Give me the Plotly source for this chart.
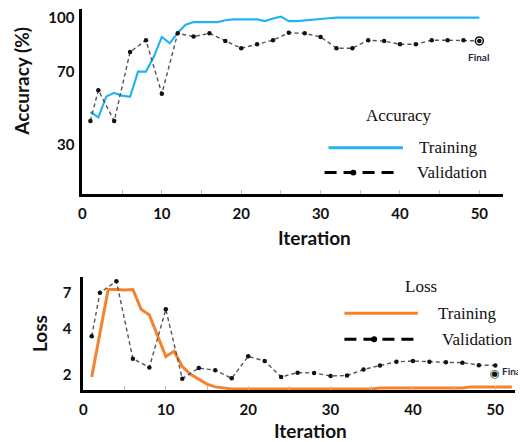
import plotly.graph_objects as go

# ---------------- data ----------------
acc_train_iter = list(range(1, 51))
acc_train = [48, 45, 56.5, 58.5, 57, 56.3, 70.2, 70.2, 78.5, 89.3,
             85.8, 91.6, 96, 97.5, 97.5, 97.5, 97.5, 98.5, 99, 99,
             99, 99, 98, 99.5, 100.5, 98, 98, 98.3, 98.7, 99.2,
             99.6, 100, 100, 100, 100, 100, 100, 100, 100, 100,
             100, 100, 100, 100, 100, 100, 100, 100, 100, 100]

val_iter = [1, 2, 4, 6, 8, 10, 12, 14, 16, 18, 20, 22, 24, 26, 28,
            30, 32, 34, 36, 38, 40, 42, 44, 46, 48, 50]
acc_val = [43, 60, 43, 81, 87.5, 58, 91.3, 89.5, 91.3, 87.1, 83.1, 85.3, 87.5,
           91.6, 91.3, 89.3, 83.1, 83.1, 87.5, 87, 85.3, 85.3, 87.5, 87.5, 87.5, 87.1]

loss_train_iter = list(range(1, 53))
loss_train = [1.92, 3.75, 7.3, 7.3, 7.25, 7.3, 5.4, 4.95, 3.55, 2.62,
              2.84, 2.25, 2.0, 1.85, 1.72, 1.65, 1.62, 1.6, 1.6, 1.6,
              1.6, 1.6, 1.6, 1.6, 1.6, 1.6, 1.6, 1.6, 1.6, 1.6,
              1.6, 1.6, 1.6, 1.6, 1.6, 1.62, 1.62, 1.62, 1.62, 1.62,
              1.62, 1.62, 1.62, 1.62, 1.62, 1.62, 1.65, 1.65, 1.65, 1.65,
              1.65, 1.65]
loss_val = [3.57, 6.95, 8.3, 2.54, 2.22, 5.4, 1.87, 2.2, 2.13, 1.88, 2.63, 2.45, 1.92,
            2.05, 2.04, 1.95, 1.96, 2.15, 2.29, 2.42, 2.45, 2.42, 2.40, 2.39, 2.3, 2.29]

x_ticks = [0, 10, 20, 30, 40, 50]
acc_ticks = [30, 70, 100]
loss_ticks = [2, 4, 7]

# ---------------- styling ----------------
# the page body has an 8px default margin; size the figure so it fills the window
OFF = 8
W, H = 526 - OFF, 442 - OFF
BLUE = "#22b4f0"
ORANGE = "#f5822d"
LBL = dict(family="Lato, 'DejaVu Sans', sans-serif", size=15, color="#111", weight="bold")
SERIF = dict(family="'Liberation Serif', 'Times New Roman', serif", size=17, color="#111")


def px(x):
    return (x - OFF) / W


def py(y):
    return 1 - (y - OFF) / H


fig = go.Figure()

fig.add_trace(go.Scatter(x=acc_train_iter, y=acc_train, mode="lines",
                         line=dict(color=BLUE, width=2.2), xaxis="x", yaxis="y",
                         showlegend=False))
fig.add_trace(go.Scatter(x=val_iter, y=acc_val, mode="lines+markers",
                         line=dict(color="#555", width=1.4, dash="4px,3px"),
                         marker=dict(color="#111", size=4.5), xaxis="x", yaxis="y",
                         showlegend=False))
fig.add_trace(go.Scatter(x=[val_iter[-1]], y=[acc_val[-1]], mode="markers",
                         marker=dict(symbol="circle-open-dot", color="#111", size=8,
                                     line=dict(width=1.5)),
                         xaxis="x", yaxis="y", showlegend=False))

fig.add_trace(go.Scatter(x=loss_train_iter, y=loss_train, mode="lines",
                         line=dict(color=ORANGE, width=3), xaxis="x2", yaxis="y2",
                         showlegend=False))
fig.add_trace(go.Scatter(x=val_iter, y=loss_val, mode="lines+markers",
                         line=dict(color="#555", width=1.4, dash="4px,3px"),
                         marker=dict(color="#111", size=4.5), xaxis="x2", yaxis="y2",
                         showlegend=False))

axis_common = dict(showline=True, linecolor="#000", linewidth=3, showgrid=False,
                   zeroline=False, tickfont=LBL, mirror=False,
                   ticklabeloverflow="allow")

fig.update_layout(
    width=W, height=H,
    margin=dict(l=0, r=0, t=0, b=0),
    paper_bgcolor="white", plot_bgcolor="white",
    xaxis=dict(domain=[px(79), px(503)], range=[0, 53], anchor="y",
               tickvals=x_ticks, ticks="inside", ticklen=4, tickcolor="#bbb",
               minor=dict(dtick=5, ticks="inside", ticklen=4, tickcolor="#bbb"),
               ticklabelstandoff=4, **axis_common),
    yaxis=dict(domain=[py(193), py(8)], range=[3, 104.7], anchor="x",
               tickvals=acc_ticks, ticks="", ticklabelstandoff=2, **axis_common),
    xaxis2=dict(domain=[px(80), px(515)], range=[0, 52.4], anchor="y2",
                tickvals=x_ticks, ticks="inside", ticklen=4, tickcolor="#bbb",
                minor=dict(dtick=5, ticks="inside", ticklen=4, tickcolor="#bbb"),
                ticklabelstandoff=4, **axis_common),
    yaxis2=dict(domain=[py(390), py(277)], type="log",
                range=[0.196, 0.944], anchor="x2",
                tickvals=loss_ticks, ticks="", ticklabelstandoff=6, **axis_common),
)

TITLE = dict(family="Lato, 'DejaVu Sans', sans-serif", size=19, color="#111", weight="bold")
ann = [
    dict(text="Accuracy (%)", x=px(18), y=py(80), textangle=-90, font=TITLE),
    dict(text="Iteration", x=px(313), y=py(237), font=TITLE),
    dict(text="Loss", x=px(35), y=py(333), textangle=-90, font=TITLE),
    dict(text="Iteration", x=px(309), y=py(430), font=TITLE),
    # legend texts
    dict(text="Accuracy", x=px(398), y=py(115), font=SERIF),
    dict(text="Training", x=px(416), y=py(147), xanchor="left", font=SERIF),
    dict(text="Validation", x=px(414), y=py(172), xanchor="left", font=SERIF),
    dict(text="Loss", x=px(420), y=py(286), font=SERIF),
    dict(text="Training", x=px(435), y=py(313), xanchor="left", font=SERIF),
    dict(text="Validation", x=px(439), y=py(339), xanchor="left", font=SERIF),
    # final labels
    dict(text="Final", x=px(478), y=py(56),
         font=dict(family="Lato, sans-serif", size=10, color="#1d2b45", weight="bold")),
    dict(text="◉", x=val_iter[-1], y=0.36, xref="x2", yref="y2", yshift=-8,
         font=dict(family="DejaVu Sans", size=11, color="#111"), showarrow=False),
    dict(text="Final", x=px(500), y=py(371), xanchor="left",
         font=dict(family="Lato, sans-serif", size=10, color="#1d2b45", weight="bold")),
]
for a in ann:
    a.setdefault("xref", "paper")
    a.setdefault("yref", "paper")
    a.setdefault("showarrow", False)
    a.setdefault("xanchor", "center")
    a.setdefault("yanchor", "middle")
fig.update_layout(annotations=ann)

shapes = [
    dict(type="line", x0=px(327), x1=px(402), y0=py(147), y1=py(147),
         line=dict(color=BLUE, width=3)),
    dict(type="line", x0=px(323), x1=px(397), y0=py(172), y1=py(172),
         line=dict(color="#000", width=3, dash="12px,7px")),
    dict(type="circle", x0=px(349), x1=px(355), y0=py(175), y1=py(169),
         fillcolor="#000", line=dict(color="#000", width=0)),
    dict(type="line", x0=px(343), x1=px(417), y0=py(313), y1=py(313),
         line=dict(color=ORANGE, width=3)),
    dict(type="line", x0=px(343), x1=px(417), y0=py(339), y1=py(339),
         line=dict(color="#000", width=3, dash="12px,7px")),
    dict(type="circle", x0=px(370), x1=px(376), y0=py(342), y1=py(336),
         fillcolor="#000", line=dict(color="#000", width=0)),
]
for s in shapes:
    s["xref"] = "paper"
    s["yref"] = "paper"
fig.update_layout(shapes=shapes)

fig.write_html("out.html")
